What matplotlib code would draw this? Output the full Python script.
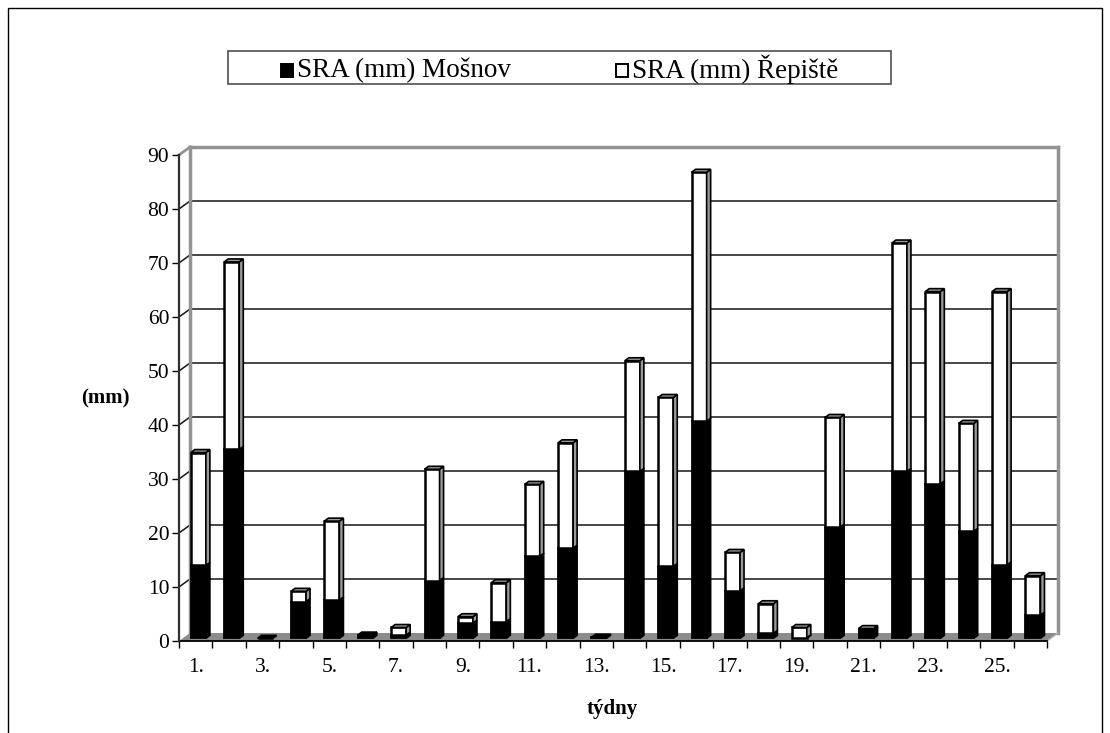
import matplotlib
matplotlib.use("Agg")
import matplotlib.pyplot as plt
from matplotlib.patches import Polygon, Rectangle
import numpy as np

# ---- data ----
weeks = list(range(1, 27))
week_labels = [f"{w}." for w in weeks]
mosnov = [13.5, 35.0, 0.0, 6.8, 7.1, 0.6, 0.6, 10.7, 2.8, 3.1, 15.2, 16.7, 0.2,
          30.9, 13.3, 40.2, 8.8, 0.9, 0.1, 20.6, 1.5, 30.9, 28.6, 19.8, 13.6, 4.3]
repiste = [20.9, 34.7, 0.0, 1.9, 14.6, 0.0, 1.4, 20.6, 1.2, 7.2, 13.3, 19.5, 0.0,
           20.5, 31.3, 46.1, 7.1, 5.5, 1.9, 20.3, 0.3, 42.3, 35.6, 20.0, 50.6, 7.3]
series_names = ["SRA (mm) Mošnov", "SRA (mm) Řepiště"]
y_ticks = list(range(0, 100, 10))

plt.rcParams['font.family'] = ['Liberation Serif', 'DejaVu Serif']

W, H = 1110, 733
fig = plt.figure(figsize=(W / 100, H / 100), dpi=100)

# 3D-look geometry (data units)
DX, DY = 0.33, 1.48        # floor depth
BASE = 0.5                 # bar baseline (bar front plane)
XOFF = 0.08                # bar front centre offset
BW = 0.45                  # bar front width
BDX, BDY = 0.12, 0.55      # bar depth

n = len(weeks)
x0, x1 = 0.5, n + 0.5
ymax = 90

left_px, right_px, bot_px, top_px = 179, 1058, 641, 147
ax = fig.add_axes([left_px / W, 1 - bot_px / H, (right_px - left_px) / W, (bot_px - top_px) / H])
ax.set_xlim(x0, x1 + DX)
ax.set_ylim(0, ymax + DY)
for s in ax.spines.values():
    s.set_visible(False)
ax.patch.set_visible(False)

wall_gray = '#939393'
for v in y_ticks[1:-1]:
    ax.plot([x0 + DX, x1 + DX], [v + DY, v + DY], color='#151515', lw=1.1, zorder=1)
    ax.plot([x0, x0 + DX], [v, v + DY], color='#151515', lw=1.1, zorder=1)
ax.plot([x0 + DX, x1 + DX], [ymax + DY, ymax + DY], color=wall_gray, lw=2.5, zorder=1, clip_on=False)
ax.plot([x0, x0 + DX], [ymax, ymax + DY], color=wall_gray, lw=2.0, zorder=1, clip_on=False)
ax.plot([x0 + DX, x0 + DX], [DY, ymax + DY], color=wall_gray, lw=2.5, zorder=1, clip_on=False)
ax.plot([x1 + DX, x1 + DX], [DY, ymax + DY], color=wall_gray, lw=2.5, zorder=1, clip_on=False)
floor = Polygon([(x0, 0), (x1, 0), (x1 + DX, DY), (x0 + DX, DY)], closed=True,
                facecolor='#8c8c8c', edgecolor='none', zorder=1.5)
ax.add_patch(floor)
ax.plot([x1, x1 + DX], [0, DY], color='#b0b0b0', lw=1.0, zorder=1.6, clip_on=False)
ax.plot([x0, x1], [0, 0], color='black', lw=1.3, zorder=1.7, clip_on=False)
ax.plot([x0, x0], [0, ymax], color='#303030', lw=1.6, zorder=2, clip_on=False)

xs = np.array(weeks, dtype=float) + XOFF
m = np.array(mosnov)
r = np.array(repiste)
ax.bar(xs, m, width=BW, bottom=BASE, color='black', edgecolor='black', lw=1.3, zorder=3)
ax.bar(xs, r, width=BW, bottom=BASE + m, color='white', edgecolor='black', lw=1.8, zorder=3)
side_gray = '#9a9a9a'
for xi, mi, ri in zip(xs, m, r):
    xl, xr = xi - BW / 2, xi + BW / 2
    segs = [(BASE, BASE + mi, 'black')]
    if ri > 0:
        segs.append((BASE + mi, BASE + mi + ri, side_gray))
    for y0s, y1s, c in segs:
        ax.add_patch(Polygon([(xr, y0s), (xr + BDX, y0s + BDY), (xr + BDX, y1s + BDY), (xr, y1s)],
                             closed=True, facecolor=c, edgecolor='black', lw=1.2, zorder=3.1))
    top = BASE + mi + ri
    tc = side_gray if ri > 0 else 'black'
    ax.add_patch(Polygon([(xl, top), (xl + BDX, top + BDY), (xr + BDX, top + BDY), (xr, top)],
                         closed=True, facecolor=tc, edgecolor='black', lw=1.2, zorder=3.2))

ax.set_yticks(y_ticks)
ax.set_yticklabels([str(v) for v in y_ticks], fontsize=15.5)
ax.tick_params(axis='y', direction='out', length=5, width=1, color='black', pad=2)
ax.set_xticks(np.arange(x0, x1 + 0.01, 1.0))
ax.set_xticklabels([])
ax.tick_params(axis='x', which='major', direction='out', length=5, width=1, color='black')
ax.set_xticks(weeks[::2], minor=True)
ax.set_xticklabels(week_labels[::2], minor=True, fontsize=15.5)
ax.tick_params(axis='x', which='minor', length=0, pad=12)

fig.text(105 / W, 1 - 398 / H, "(mm)", fontsize=15, fontweight='bold', ha='center', va='center')
fig.text(612 / W, 1 - 709 / H, "týdny", fontsize=15, fontweight='bold', ha='center', va='center')

lg = Rectangle((228 / W, 1 - 83.5 / H), (891 - 228) / W, (83.5 - 50.5) / H, transform=fig.transFigure,
               facecolor='white', edgecolor='#505050', lw=1.2)
fig.patches.append(lg)
for mx, fc, tx, name in [(281, 'black', 297, series_names[0]), (616, 'white', 632, series_names[1])]:
    fig.patches.append(Rectangle((mx / W, 1 - 77 / H), 12 / W, 13 / H, transform=fig.transFigure,
                                 facecolor=fc, edgecolor='black', lw=1.4))
    fig.text(tx / W, 1 - 77.5 / H, name, fontsize=19.5, ha='left', va='baseline')

fig.patches.append(Rectangle((8 / W, -0.05), (1102 - 8) / W, 1.05 - 8 / H, transform=fig.transFigure,
                             facecolor='none', edgecolor='black', lw=1.0))

fig.savefig("out.png", dpi=100)
